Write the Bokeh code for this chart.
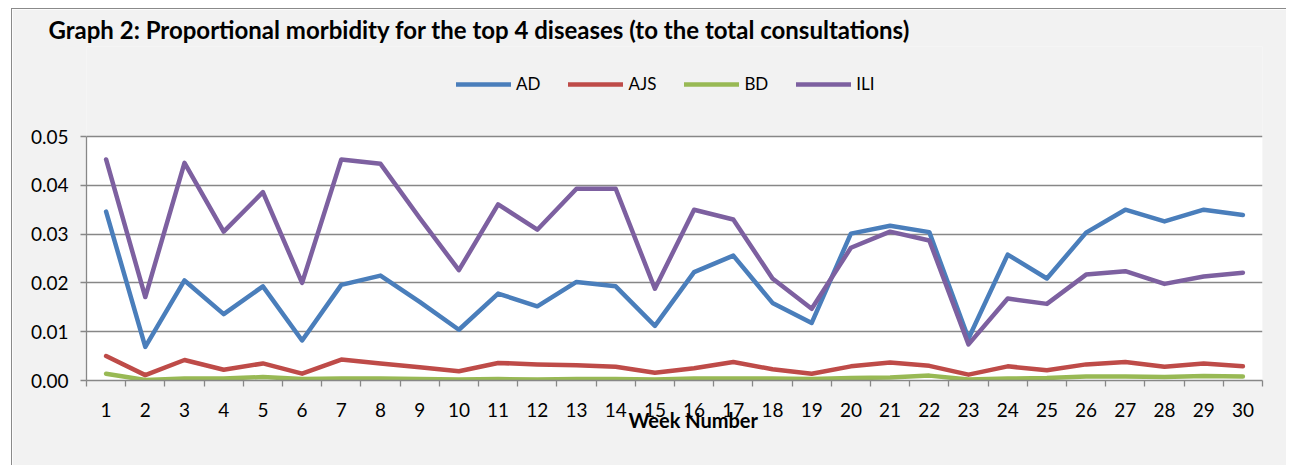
from bokeh.plotting import figure
from bokeh.models import (Range1d, FixedTicker, NumeralTickFormatter, Legend, LegendItem,
                          BoxAnnotation, Title)
from bokeh.embed import file_html
from bokeh.resources import INLINE

# ---------------- data ----------------
weeks = list(range(1, 31))
ad = [0.0346, 0.0069, 0.0205, 0.0136, 0.0193, 0.0082, 0.0196, 0.0215, 0.0161, 0.0104,
      0.0178, 0.0152, 0.0202, 0.0193, 0.0112, 0.0222, 0.0256, 0.0159, 0.0118, 0.0301,
      0.0317, 0.0304, 0.0086, 0.0258, 0.0209, 0.0303, 0.0350, 0.0326, 0.0350, 0.0339]
ajs = [0.0050, 0.0011, 0.0042, 0.0022, 0.0035, 0.0014, 0.0043, 0.0035, 0.0027, 0.0019,
       0.0036, 0.0033, 0.0031, 0.0028, 0.0016, 0.0025, 0.0038, 0.0023, 0.0014, 0.0029,
       0.0037, 0.0030, 0.0012, 0.0029, 0.0021, 0.0033, 0.0038, 0.0028, 0.0035, 0.0029]
bd = [0.0014, 0.0001, 0.0004, 0.0004, 0.0007, 0.0003, 0.0004, 0.0004, 0.0003, 0.0002,
      0.0003, 0.0002, 0.0003, 0.0003, 0.0002, 0.0004, 0.0004, 0.0004, 0.0003, 0.0005,
      0.0006, 0.0010, 0.0002, 0.0004, 0.0005, 0.0008, 0.0008, 0.0007, 0.0009, 0.0008]
ili = [0.0453, 0.0171, 0.0446, 0.0305, 0.0386, 0.0200, 0.0453, 0.0444, 0.0333, 0.0226,
       0.0361, 0.0309, 0.0393, 0.0393, 0.0188, 0.0350, 0.0330, 0.0209, 0.0147, 0.0272,
       0.0305, 0.0287, 0.0074, 0.0168, 0.0157, 0.0217, 0.0224, 0.0198, 0.0213, 0.0221]
series_names = ["AD", "AJS", "BD", "ILI"]
y_ticks = [0.00, 0.01, 0.02, 0.03, 0.04, 0.05]
title_text = "Graph 2: Proportional morbidity for the top 4 diseases (to the total consultations)"
x_title = "Week Number"

# ---------------- styles ----------------
colors = ["#4A7EBB", "#BE4B48", "#98B954", "#7D60A0"]
GRID = "#878787"
BG = "#F2F2F2"
FONT = "Lato"

W, H = 1275, 457
# page geometry: white plot area 86..1262 x 136..380; frame extended upward
FL, FR, FT, FB = 86, 1262, 136, 380
FRAME_TOP = 46
CX, CY = 12, 9   # canvas origin on the page


def yd(py):
    return (FB - py) / (FB - FT) * (y_ticks[-1] - y_ticks[0])


p = figure(width=W, height=H, output_backend="svg", toolbar_location=None,
           x_range=Range1d(weeks[0] - 0.5, weeks[-1] + 0.5),
           y_range=Range1d(y_ticks[0], yd(FRAME_TOP)),
           min_border_left=FL - CX, min_border_right=W - (FR - CX),
           min_border_top=FRAME_TOP - CY, min_border_bottom=H - (FB - CY))
p.styles = {"margin-left": "11px", "margin-top": "8px",
            "border-left": "1px solid #8a8a8a", "border-top": "1px solid #8a8a8a"}
p.background_fill_color = BG
p.border_fill_color = BG
p.outline_line_color = None

# white plotting area (0 .. 0.05)
p.add_layout(BoxAnnotation(bottom=y_ticks[0], top=y_ticks[-1], fill_color="white", fill_alpha=1,
                           line_color=None, level="image"))

# title
p.title.text = title_text
p.title.align = "left"
p.title.offset = 48 - FL
p.title.text_font = FONT
p.title.text_font_style = "bold"
p.title.text_font_size = "24px"
p.title.text_color = "black"
p.title.standoff = 6

# x axis
p.xaxis.ticker = FixedTicker(ticks=weeks, minor_ticks=[w - 0.5 for w in weeks] + [weeks[-1] + 0.5])
p.xaxis.major_tick_line_color = None
p.xaxis.major_tick_out = 0
p.xaxis.major_tick_in = 0
p.xaxis.minor_tick_line_color = GRID
p.xaxis.minor_tick_line_width = 1.3
p.xaxis.minor_tick_out = 6
p.xaxis.minor_tick_in = 0
p.xaxis.axis_line_color = GRID
p.xaxis.axis_line_width = 1.3
p.xaxis.major_label_text_font = FONT
p.xaxis.major_label_text_font_size = "19px"
p.xaxis.major_label_text_color = "black"
p.xaxis.major_label_standoff = 16

# x axis title, overlapping the tick labels as in the reference
p.add_layout(Title(text=x_title, align="left", offset=628 - FL, standoff=-24,
                   vertical_align="top",
                   text_font=FONT, text_font_style="bold", text_font_size="20px",
                   text_color="black"), "below")

# y axis
p.yaxis.ticker = FixedTicker(ticks=y_ticks, minor_ticks=[])
p.yaxis.bounds = (y_ticks[0], y_ticks[-1])
p.yaxis.formatter = NumeralTickFormatter(format="0.00")
p.yaxis.major_tick_line_color = GRID
p.yaxis.major_tick_line_width = 1.3
p.yaxis.major_tick_out = 6
p.yaxis.major_tick_in = 0
p.yaxis.minor_tick_line_color = None
p.yaxis.axis_line_color = GRID
p.yaxis.axis_line_width = 1.3
p.yaxis.major_label_text_font = FONT
p.yaxis.major_label_text_font_size = "19px"
p.yaxis.major_label_text_color = "black"
p.yaxis.major_label_standoff = 12

p.xgrid.grid_line_color = None
p.ygrid.grid_line_color = GRID
p.ygrid.grid_line_width = 1.3

renderers = []
for name, ys, c in zip(series_names, [ad, ajs, bd, ili], colors):
    r = p.line(weeks, ys, line_color=c, line_width=4.5, line_join="round", line_cap="round")
    renderers.append((name, r))

legend = Legend(items=[LegendItem(label=n, renderers=[r]) for n, r in renderers],
                orientation="horizontal", location=(456 - FL, FB - 84 - 10),
                glyph_width=55, glyph_height=20, label_height=20, label_standoff=5,
                spacing=28, padding=0, margin=0, background_fill_alpha=0,
                border_line_color=None, label_text_font=FONT, label_text_font_size="17px",
                label_text_color="black")
p.add_layout(legend)

open("out.html", "w").write(file_html(p, INLINE))
